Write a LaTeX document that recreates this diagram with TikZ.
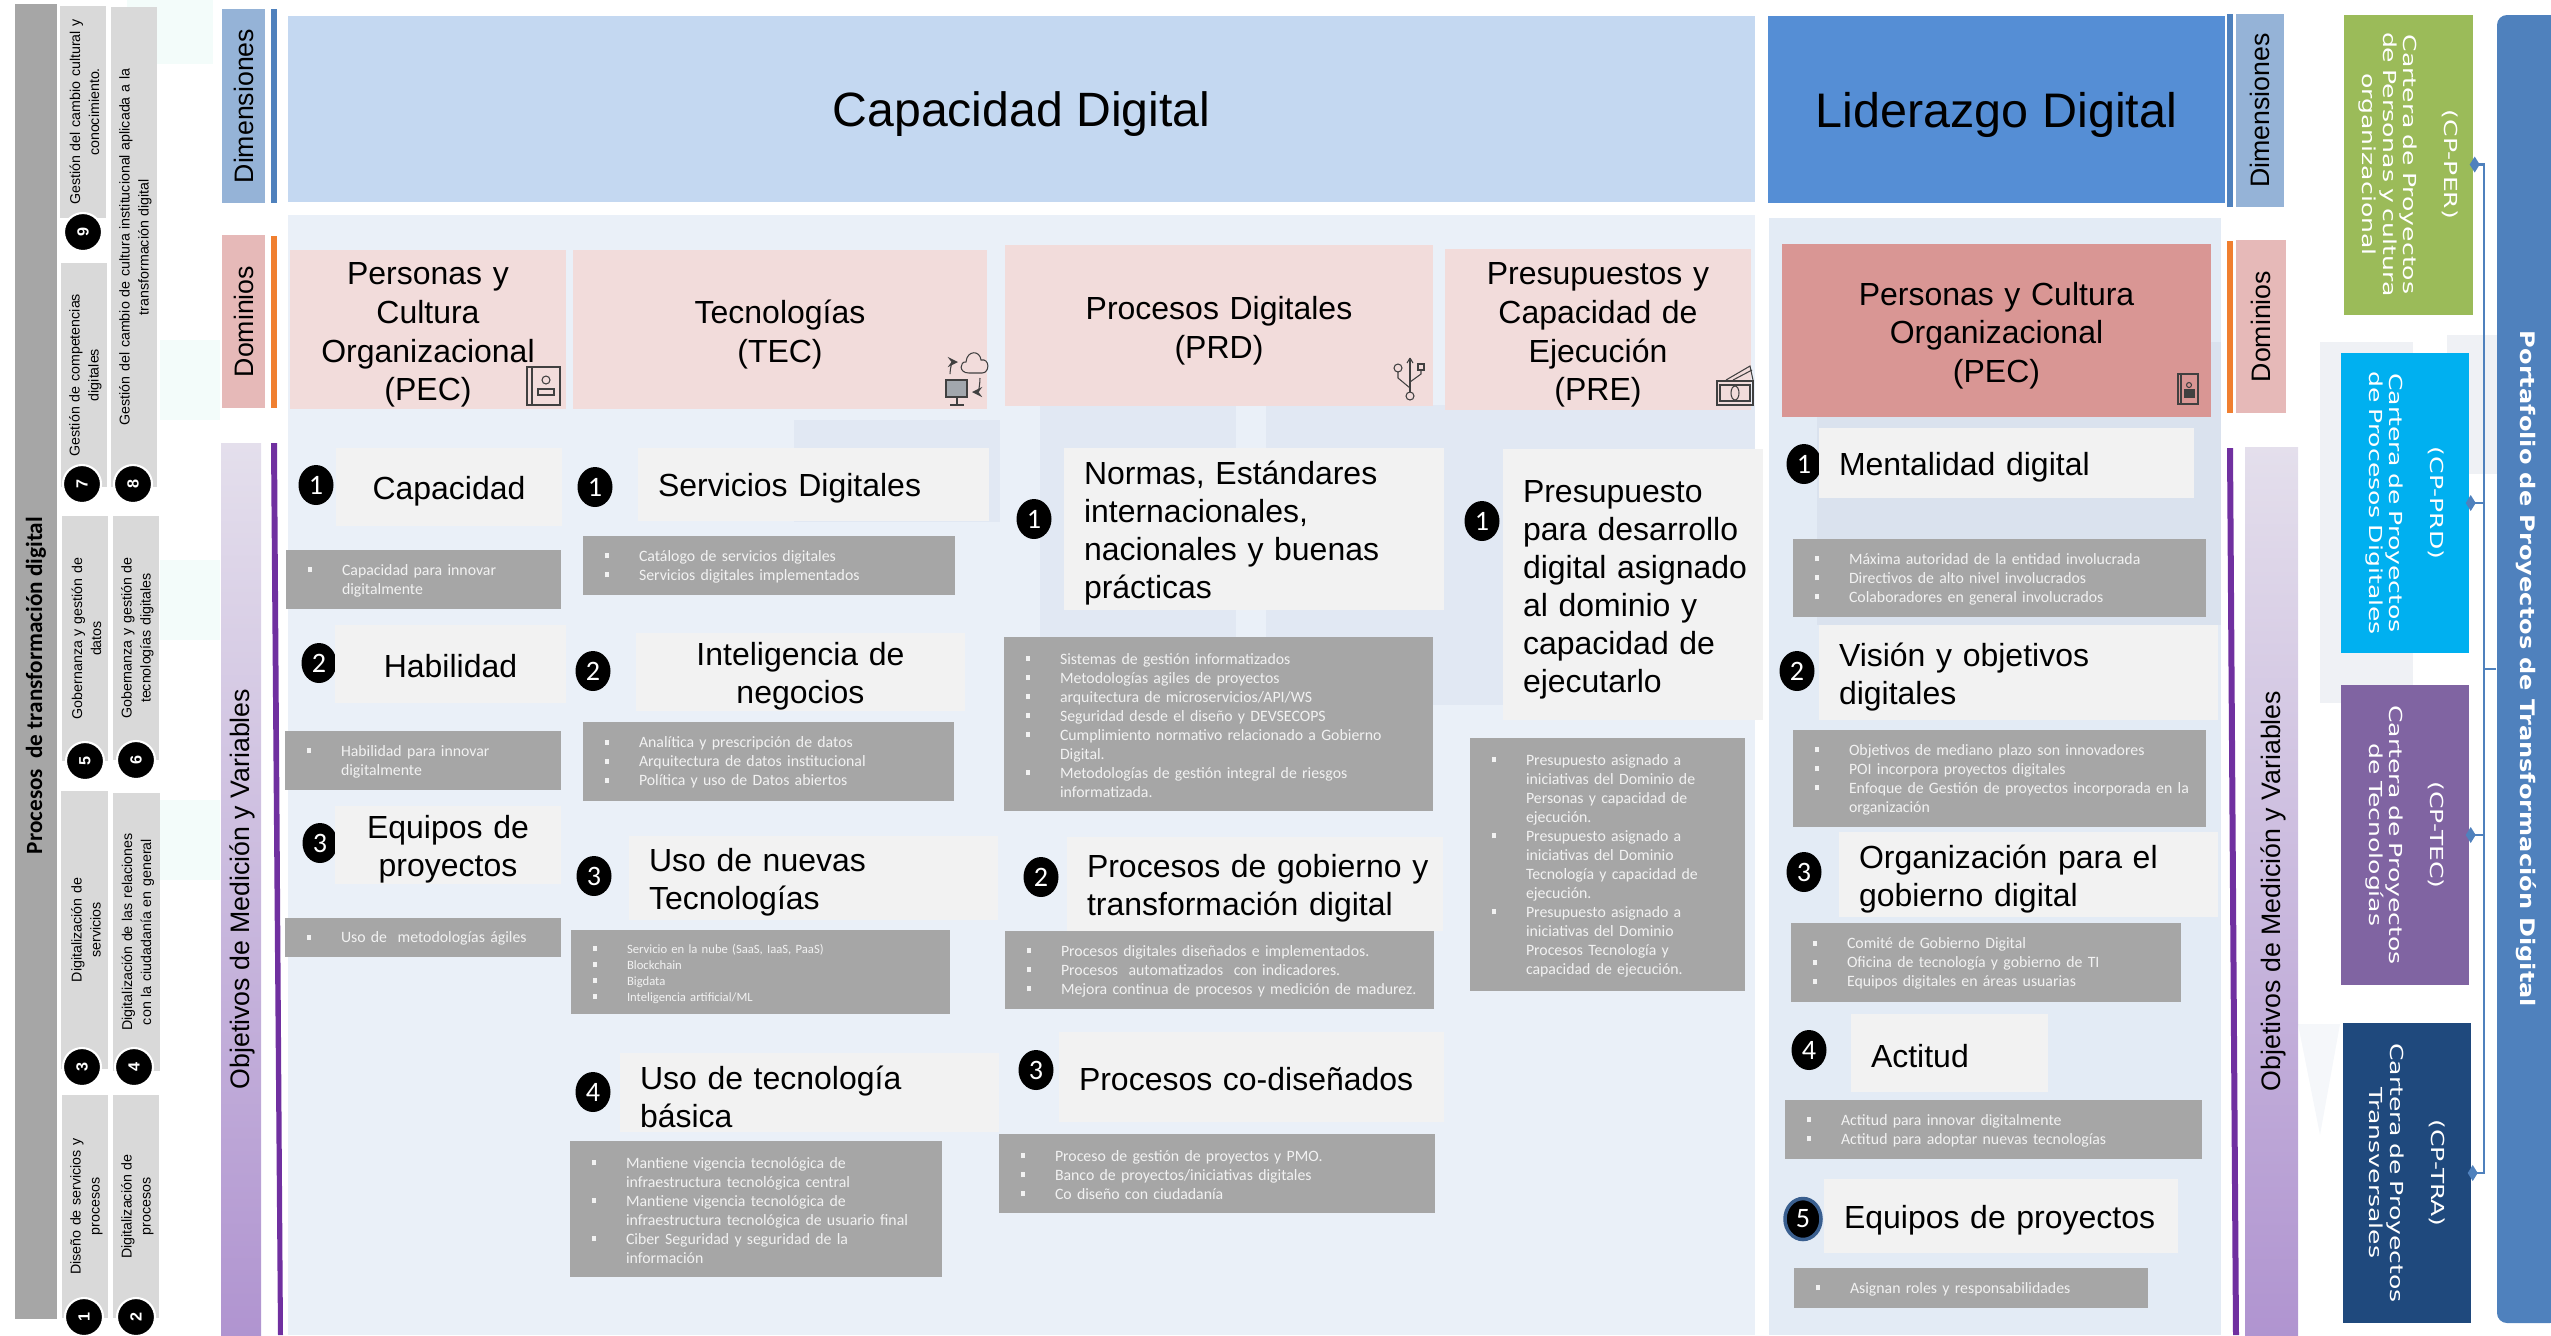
\documentclass[tikz,border=0pt]{standalone}
\usepackage{fontspec}
\setmainfont{Liberation Sans}
\newfontfamily\carlito{Carlito}
\newfontfamily\carterafont[FakeStretch=1.4]{DejaVu Sans}
\newfontfamily\portfont[FakeStretch=1.2]{DejaVu Sans}
\usetikzlibrary{shapes.geometric,arrows.meta}
\definecolor{grisosc}{HTML}{A6A6A6}
\definecolor{grisclaro}{HTML}{D9D9D9}
\definecolor{gristit}{HTML}{F2F2F2}
\definecolor{azuldim}{HTML}{95B3D7}
\definecolor{azulcap}{HTML}{C4D8F1}
\definecolor{azullid}{HTML}{558ED5}
\definecolor{azullin}{HTML}{4F81BD}
\definecolor{rosadom}{HTML}{E6B9B8}
\definecolor{rosapal}{HTML}{F2DCDB}
\definecolor{rosaosc}{HTML}{D99694}
\definecolor{naranja}{HTML}{F07F30}
\definecolor{morado}{HTML}{7030A0}
\definecolor{lilaalto}{HTML}{E4DFEC}
\definecolor{lilabajo}{HTML}{B094D0}
\definecolor{panelcap}{HTML}{EAF0F8}
\definecolor{panellid}{HTML}{E3EBF5}
\definecolor{marcacap}{HTML}{E1E8F3}
\definecolor{marcalid}{HTML}{DAE2EE}
\definecolor{marcagris}{HTML}{EFF1F5}
\definecolor{marcapal}{HTML}{F5F7FA}
\definecolor{marcamenta}{HTML}{F3FCFA}
\definecolor{verdecp}{HTML}{9BBB59}
\definecolor{cianocp}{HTML}{00B0F0}
\definecolor{moradocp}{HTML}{8064A2}
\definecolor{navycp}{HTML}{1F497D}
\definecolor{anillo}{HTML}{3A5F8F}
\definecolor{icogris}{HTML}{404040}
\newcommand{\vin}[1]{\makebox[.34cm][l]{\rule[.4ex]{.04cm}{.05cm}}\mbox{#1}}
\newcommand{\sig}[1]{\hspace*{.34cm}\mbox{#1}}
\newcommand{\alzar}[1]{\leavevmode\rule{0pt}{#1}}
\tikzset{
  tam/.style 2 args={minimum width=#1cm,minimum height=#2cm,text width=#1cm},
  bloque/.style={inner sep=0,align=center,font=\fontsize{7.6}{9}\selectfont},
  lat/.style={fill=grisclaro,rotate=90,inner sep=0,align=center,execute at begin node=\alzar{3.8pt},font=\fontsize{4.05}{5.4}\selectfont},
  numlat/.style={shape=circle,fill=black,draw=white,line width=.6pt,minimum size=.38cm,inner sep=0,text=white,rotate=90,font=\bfseries\fontsize{4.6}{4.6}\selectfont},
  dominio/.style={fill=rosapal,inner sep=0,align=center,execute at begin node=\alzar{9.4pt},font=\fontsize{9.1}{11}\selectfont},
  num/.style={shape=ellipse,fill=black,minimum width=.35cm,minimum height=.40cm,inner sep=0,text=white,font=\carlito\fontsize{8}{8}\selectfont},
  titc/.style={fill=gristit,inner sep=0,align=center,execute at begin node=\alzar{9.2pt},font=\fontsize{9.1}{10.8}\selectfont},
  titi/.style 2 args={fill=gristit,inner xsep=.2cm,inner ysep=0,minimum width=#1cm,minimum height=#2cm,text width={#1cm-.4cm},align=left,execute at begin node=\alzar{9.2pt},font=\fontsize{9.1}{10.8}\selectfont},
  cuerpo/.style 2 args={fill=grisosc,text=gristit,inner xsep=.22cm,inner ysep=0,minimum width=#1cm,minimum height=#2cm,text width={#1cm-.44cm},align=left,execute at begin node=\alzar{3.8pt},font=\carlito\fontsize{4.5}{5.4}\selectfont},
  carta/.style={rotate=-90,text=white,inner sep=0,align=center,minimum width=3cm,text width=3cm,font=\carterafont\fontsize{5.1}{5.85}\selectfont},
  enlace/.style={draw=azullin,line width=.7pt},
  punta/.style={-{Diamond[length=.1cm,width=.16cm]},shorten >=-.04cm},
  icono/.style={draw=icogris,line width=.3pt},
}
\begin{document}
\begin{tikzpicture}
\useasboundingbox (0,0) rectangle (25.51,-13.35);
\fill[marcamenta] (1.27,0) rectangle (2.13,-.64);
\fill[marcamenta] (1.60,-3.40) rectangle (2.20,-4.20);
\fill[marcamenta] (1.60,-5.60) rectangle (2.20,-6.40);
\fill[marcamenta] (1.60,-8.00) rectangle (2.20,-8.80);
\fill[marcagris] (23.20,-3.42) rectangle (24.13,-7.03);
\fill[marcagris] (24.47,-3.35) rectangle (24.97,-4.74);
\fill[marcapal] (22.98,-10.24) -- (23.40,-10.24) -- (23.20,-11.35) -- cycle;
\node[fill=panelcap,inner sep=0,minimum width=14.67cm,minimum height=11.2cm] (pancap) at (10.215,-7.75) {};
\node[fill=panellid,inner sep=0,minimum width=4.52cm,minimum height=11.17cm] (panlid) at (19.95,-7.765) {};
\fill[marcacap] (10.40,-4.05) rectangle (12.36,-7.05);
\fill[marcacap] (12.66,-4.05) rectangle (17.55,-7.05);
\fill[marcacap] (7.94,-4.20) rectangle (10.00,-5.22);
\fill[marcalid] (18.17,-3.42) rectangle (22.21,-6.25);

\node[fill=grisosc,rotate=90,inner sep=0,minimum width=13.15cm,minimum height=.42cm,font=\carlito\bfseries\fontsize{6.6}{8}\selectfont] (barra) at (.36,-6.615) {Procesos\ \ de transformación digital\hspace*{.48cm}};
\node[lat,tam={2.12}{.46}] (g9) at (.83,-1.12) {Gestión del cambio cultural y\\conocimiento.};
\node[lat,tam={4.80}{.46}] (g8) at (1.34,-2.47) {Gestión del cambio de cultura institucional aplicada a la\\transformación digital};
\node[lat,tam={2.24}{.46}] (g7) at (.84,-3.75) {Gestión de competencias\\digitales};
\node[lat,tam={2.45}{.46}] (g5) at (.85,-6.385) {Gobernanza y gestión de\\datos};
\node[lat,tam={2.44}{.46}] (g6) at (1.36,-6.38) {Gobernanza y gestión de\\tecnologías digitales};
\node[lat,tam={2.78}{.47}] (g3) at (.845,-9.30) {Digitalización de\\servicios};
\node[lat,tam={2.78}{.47}] (g4) at (1.365,-9.32) {Digitalización de las relaciones\\con la ciudadanía en general};
\node[lat,tam={2.23}{.46}] (g1) at (.85,-12.065) {Diseño de servicios y\\procesos};
\node[lat,tam={2.23}{.46}] (g2) at (1.36,-12.065) {Digitalización de\\procesos};
\node[numlat] (n9) at (.83,-2.32) {9};
\node[numlat] (n8) at (1.33,-4.84) {8};
\node[numlat] (n7) at (.82,-4.84) {7};
\node[numlat] (n5) at (.85,-7.61) {5};
\node[numlat] (n6) at (1.36,-7.60) {6};
\node[numlat] (n3) at (.82,-10.67) {3};
\node[numlat] (n4) at (1.34,-10.67) {4};
\node[numlat] (n1) at (.84,-13.17) {1};
\node[numlat] (n2) at (1.36,-13.17) {2};

\node[bloque,fill=azuldim,rotate=90,minimum width=1.94cm,minimum height=.43cm] (dim1) at (2.435,-1.06) {Dimensiones};
\node[bloque,fill=rosadom,rotate=90,minimum width=1.73cm,minimum height=.43cm] (dom1) at (2.435,-3.215) {Dominios};
\node[bloque,top color=lilaalto,bottom color=lilabajo,minimum width=.40cm,minimum height=8.92cm] (obj1) at (2.41,-8.89) {\hspace*{.03cm}\rotatebox{90}{Objetivos de Medición y Variables}};
\node[bloque,fill=azuldim,rotate=90,minimum width=1.93cm,minimum height=.48cm] (dim2) at (22.60,-1.105) {Dimensiones};
\node[bloque,fill=rosadom,rotate=90,minimum width=1.73cm,minimum height=.50cm] (dom2) at (22.61,-3.265) {Dominios};
\node[bloque,top color=lilaalto,bottom color=lilabajo,minimum width=.53cm,minimum height=8.88cm] (obj2) at (22.715,-8.91) {\hspace*{.03cm}\rotatebox{90}{Objetivos de Medición y Variables}};
\fill[azullin] (2.71,-.09) rectangle (2.77,-2.03);
\fill[naranja] (2.71,-2.36) rectangle (2.77,-4.08);
\fill[morado] (2.71,-4.43) -- (2.77,-4.43) -- (2.83,-13.35) -- (2.78,-13.35) -- cycle;
\fill[azullin] (22.27,-.14) rectangle (22.33,-2.07);
\fill[naranja] (22.27,-2.41) rectangle (22.33,-4.13);
\fill[morado] (22.27,-4.48) -- (22.33,-4.48) -- (22.39,-13.35) -- (22.33,-13.35) -- cycle;

\node[fill=azulcap,inner sep=0,minimum width=14.67cm,minimum height=1.86cm,text depth=-.5pt,font=\fontsize{13.7}{16}\selectfont] (capdig) at (10.215,-1.09) {Capacidad Digital};
\node[fill=azullid,inner sep=0,minimum width=4.57cm,minimum height=1.87cm,text depth=-.5pt,font=\fontsize{13.8}{16}\selectfont] (liddig) at (19.965,-1.095) {Liderazgo Digital};

\node[dominio,tam={2.76}{1.59}] (pec1) at (4.28,-3.295) {Personas y\\Cultura\\Organizacional\\(PEC)};
\node[dominio,tam={4.14}{1.59}] (tec) at (7.80,-3.295) {Tecnologías\\(TEC)};
\node[dominio,tam={4.28}{1.61}] (prd) at (12.19,-3.255) {Procesos Digitales\\(PRD)};
\node[dominio,tam={3.06}{1.61}] (pre) at (15.98,-3.295) {Presupuestos y\\Capacidad de\\Ejecución\\(PRE)};
\node[dominio,fill=rosaosc,tam={4.29}{1.73}] (pec2) at (19.965,-3.305) {Personas y Cultura\\Organizacional\\(PEC)};

\node[num] (a1) at (3.16,-4.85) {1};
\node[titc,tam={2.26}{.78}] (ta1) at (4.49,-4.87) {\raisebox{.3pt}{Capacidad}};
\node[cuerpo={2.75}{.59}] (ba1) at (4.235,-5.795) {\vin{Capacidad para innovar}\\\sig{digitalmente}};
\node[num] (a2) at (3.19,-6.63) {2};
\node[titc,tam={2.31}{.78}] (ta2) at (4.505,-6.64) {\raisebox{.9pt}{Habilidad}};
\node[cuerpo={2.76}{.59}] (ba2) at (4.23,-7.605) {\vin{Habilidad para innovar}\\\sig{digitalmente}};
\node[num] (a3) at (3.20,-8.43) {3};
\node[titc,tam={2.26}{.78}] (ta3) at (4.48,-8.45) {Equipos de\\proyectos};
\node[cuerpo={2.76}{.39}] (ba3) at (4.23,-9.375) {\vin{Uso de\ \ metodologías ágiles}};

\node[num] (b1) at (5.95,-4.87) {1};
\node[titi={3.51}{.73}] (tb1) at (8.135,-4.845) {\raisebox{.3pt}{Servicios Digitales}};
\node[cuerpo={3.72}{.59}] (bb1) at (7.69,-5.655) {\vin{Catálogo de servicios digitales}\\\vin{Servicios digitales implementados}};
\node[num] (b2) at (5.93,-6.71) {2};
\node[titc,tam={3.29}{.78}] (tb2) at (8.005,-6.72) {Inteligencia de\\negocios};
\node[cuerpo={3.71}{.79}] (bb2) at (7.685,-7.615) {\vin{Analítica y prescripción de datos}\\\vin{Arquitectura de datos institucional}\\\vin{Política y uso de Datos abiertos}};
\node[num] (b3) at (5.94,-8.76) {3};
\node[titi={3.69}{.84}] (tb3) at (8.135,-8.78) {Uso de nuevas\\Tecnologías};
\node[cuerpo={3.79}{.84},font=\carlito\fontsize{3.6}{4.55}\selectfont] (bb3) at (7.605,-9.72) {\vin{Servicio en la nube (SaaS, IaaS, PaaS)}\\\vin{Blockchain}\\\vin{Bigdata}\\\vin{Inteligencia artificial/ML}};
\node[num] (b4) at (5.93,-10.92) {4};
\node[titi={3.79}{.79}] (tb4) at (8.095,-10.925) {Uso de tecnología\\básica};
\node[cuerpo={3.72}{1.36}] (bb4) at (7.56,-12.09) {\vin{Mantiene vigencia tecnológica de}\\\sig{infraestructura tecnológica central}\\\vin{Mantiene vigencia tecnológica de}\\\sig{infraestructura tecnológica de usuario final}\\\vin{Ciber Seguridad y seguridad de la}\\\sig{información}};

\node[num] (c1) at (10.34,-5.19) {1};
\node[titi={3.80}{1.62}] (tc1) at (12.54,-5.29) {Normas, Estándares\\internacionales,\\nacionales y buenas\\prácticas};
\node[cuerpo={4.29}{1.74}] (bc1) at (12.185,-7.24) {\vin{Sistemas de gestión informatizados}\\\vin{Metodologías agiles de proyectos}\\\vin{arquitectura de microservicios/API/WS}\\\vin{Seguridad desde el diseño y DEVSECOPS}\\\vin{Cumplimiento normativo relacionado a Gobierno}\\\sig{Digital.}\\\vin{Metodologías de gestión integral de riesgos}\\\sig{informatizada.}};
\node[num] (c2) at (10.41,-8.77) {2};
\node[titi={3.76}{.94}] (tc2) at (12.55,-8.84) {\mbox{Procesos de gobierno y}\\\mbox{transformación digital}};
\node[cuerpo={4.29}{.78}] (bc2) at (12.195,-9.70) {\vin{Procesos digitales diseñados e implementados.}\\\vin{Procesos\ \ automatizados\ \ con indicadores.}\\\vin{Mejora continua de procesos y medición de madurez.}};
\node[num] (c3) at (10.36,-10.70) {3};
\node[titi={3.85}{.90}] (tc3) at (12.515,-10.77) {\raisebox{.9pt}{Procesos co-diseñados}};
\node[cuerpo={4.36}{.79}] (bc3) at (12.17,-11.735) {\vin{Proceso de gestión de proyectos y PMO.}\\\vin{Banco de proyectos/iniciativas digitales}\\\vin{Co diseño con ciudadanía}};

\node[num] (d1) at (14.82,-5.21) {1};
\node[titi={2.60}{2.71}] (td1) at (16.33,-5.845) {Presupuesto\\\mbox{para desarrollo}\\\mbox{digital asignado}\\al dominio y\\capacidad de\\ejecutarlo};
\node[cuerpo={2.75}{2.53}] (bd1) at (16.075,-8.645) {\vin{Presupuesto asignado a}\\\sig{iniciativas del Dominio de}\\\sig{Personas y capacidad de}\\\sig{ejecución.}\\\vin{Presupuesto asignado a}\\\sig{iniciativas del Dominio}\\\sig{Tecnología y capacidad de}\\\sig{ejecución.}\\\vin{Presupuesto asignado a}\\\sig{iniciativas del Dominio}\\\sig{Procesos Tecnología y}\\\sig{capacidad de ejecución.}};

\node[num] (e1) at (18.04,-4.64) {1};
\node[titi={3.75}{.70}] (te1) at (20.065,-4.63) {Mentalidad digital};
\node[cuerpo={4.13}{.78}] (be1) at (19.995,-5.78) {\vin{Máxima autoridad de la entidad involucrada}\\\vin{Directivos de alto nivel involucrados}\\\vin{Colaboradores en general involucrados}};
\node[num] (e2) at (17.97,-6.71) {2};
\node[titi={3.99}{.95}] (te2) at (20.185,-6.725) {Visión y objetivos\\digitales};
\node[cuerpo={4.13}{.97}] (be2) at (19.995,-7.785) {\vin{Objetivos de mediano plazo son innovadores}\\\vin{POI incorpora proyectos digitales}\\\vin{Enfoque de Gestión de proyectos incorporada en la}\\\sig{organización}};
\node[num] (e3) at (18.04,-8.72) {3};
\node[titi={3.79}{.85}] (te3) at (20.285,-8.745) {Organización para el\\gobierno digital};
\node[cuerpo={3.90}{.79}] (be3) at (19.86,-9.625) {\vin{Comité de Gobierno Digital}\\\vin{Oficina de tecnología y gobierno de TI}\\\vin{Equipos digitales en áreas usuarias}};
\node[num] (e4) at (18.09,-10.50) {4};
\node[titi={1.97}{.78}] (te4) at (19.495,-10.53) {\raisebox{.6pt}{Actitud}};
\node[cuerpo={4.17}{.59}] (be4) at (19.935,-11.295) {\vin{Actitud para innovar digitalmente}\\\vin{Actitud para adoptar nuevas tecnologías}};
\node[num,draw=anillo,line width=1pt,minimum width=.36cm,minimum height=.41cm] (e5) at (18.03,-12.19) {5};
\node[titi={3.54}{.74}] (te5) at (20.01,-12.16) {Equipos de proyectos};
\node[cuerpo={3.54}{.40}] (be5) at (19.71,-12.88) {\vin{Asignan roles y responsabilidades}};

\draw[icono] (5.27,-3.67) rectangle (5.60,-4.05);
\draw[icono] (5.32,-3.67) -- (5.32,-4.05);
\draw[icono] (5.46,-3.80) circle (.04);
\draw[icono] (5.38,-3.95) -- (5.38,-3.89) -- (5.54,-3.89) -- (5.54,-3.95) -- cycle;
\draw[icono] (9.69,-3.73) .. controls (9.58,-3.73) and (9.60,-3.61) .. (9.66,-3.62) .. controls (9.67,-3.50) and (9.80,-3.50) .. (9.81,-3.60) .. controls (9.90,-3.58) and (9.90,-3.73) .. (9.82,-3.73) -- cycle;
\draw[icono,->,>=stealth] (9.50,-3.74) to [out=90,in=180] (9.58,-3.62);
\draw[icono,->,>=stealth] (9.80,-3.78) to [out=-90,in=0] (9.72,-3.92);
\draw[icono,line width=.7pt,fill=panellid!60!icogris] (9.46,-3.80) rectangle (9.67,-3.97);
\draw[icono] (9.57,-3.97) -- (9.57,-4.05);
\draw[icono] (9.50,-4.05) -- (9.64,-4.05);
\draw[icono] (14.10,-3.58) -- (14.10,-3.92);
\draw[icono] (14.10,-3.58) -- (14.07,-3.63);
\draw[icono] (14.10,-3.58) -- (14.13,-3.63);
\draw[icono] (14.10,-3.96) circle (.04);
\draw[icono] (14.10,-3.88) -- (13.98,-3.78) -- (13.98,-3.72);
\draw[icono] (13.98,-3.68) circle (.04);
\draw[icono] (14.10,-3.82) -- (14.21,-3.74) -- (14.21,-3.70);
\draw[icono] (14.18,-3.64) rectangle (14.24,-3.70);
\draw[icono] (17.17,-3.81) rectangle (17.53,-4.05);
\draw[icono] (17.20,-3.85) rectangle (17.50,-4.01);
\draw[icono] (17.35,-3.93) ellipse (.04 and .07);
\draw[icono] (17.26,-3.80) -- (17.50,-3.66) -- (17.53,-3.80);
\draw[icono] (17.33,-3.80) -- (17.52,-3.70);
\draw[icono] (21.78,-3.74) rectangle (21.98,-4.04);
\draw[icono] (21.81,-3.74) -- (21.81,-4.04);
\draw[icono] (21.89,-3.85) circle (.025);
\draw[icono,fill=icogris] (21.85,-3.97) rectangle (21.94,-3.90);

\node[carta,fill=verdecp,minimum height=1.29cm] (cper) at (24.085,-1.645) {(CP-PER)\\[5.85pt]Cartera de Proyectos\\de Personas y cultura\\organizacional};
\node[carta,fill=cianocp,minimum height=1.28cm] (cprd) at (24.05,-5.03) {(CP-PRD)\\[5.85pt]Cartera de Proyectos\\de Procesos Digitales};
\node[carta,fill=moradocp,minimum height=1.28cm] (ctec) at (24.05,-8.35) {(CP-TEC)\\[5.85pt]Cartera de Proyectos\\de Tecnologías};
\node[carta,fill=navycp,minimum height=1.28cm] (ctra) at (24.07,-11.73) {(CP-TRA)\\[5.85pt]Cartera de Proyectos\\Transversales};
\node[shape=rectangle,fill=azullin,rounded corners=.1cm,rotate=-90,text=white,inner sep=0,minimum width=13.08cm,minimum height=.63cm,text depth=0pt,font=\portfont\bfseries\fontsize{5.7}{7}\selectfont] (port) at (25.285,-6.69) {Portafolio de Proyectos de Transformación Digital};
\coordinate (nudo) at (24.84,-6.69);
\draw[enlace] (port.south) -- (nudo);
\draw[enlace,punta] (nudo) |- (cper.north);
\draw[enlace,punta] (nudo) |- (cprd.north);
\draw[enlace,punta] (nudo) |- (ctec.north);
\draw[enlace,punta] (nudo) |- (ctra.north);
\end{tikzpicture}
\end{document}
